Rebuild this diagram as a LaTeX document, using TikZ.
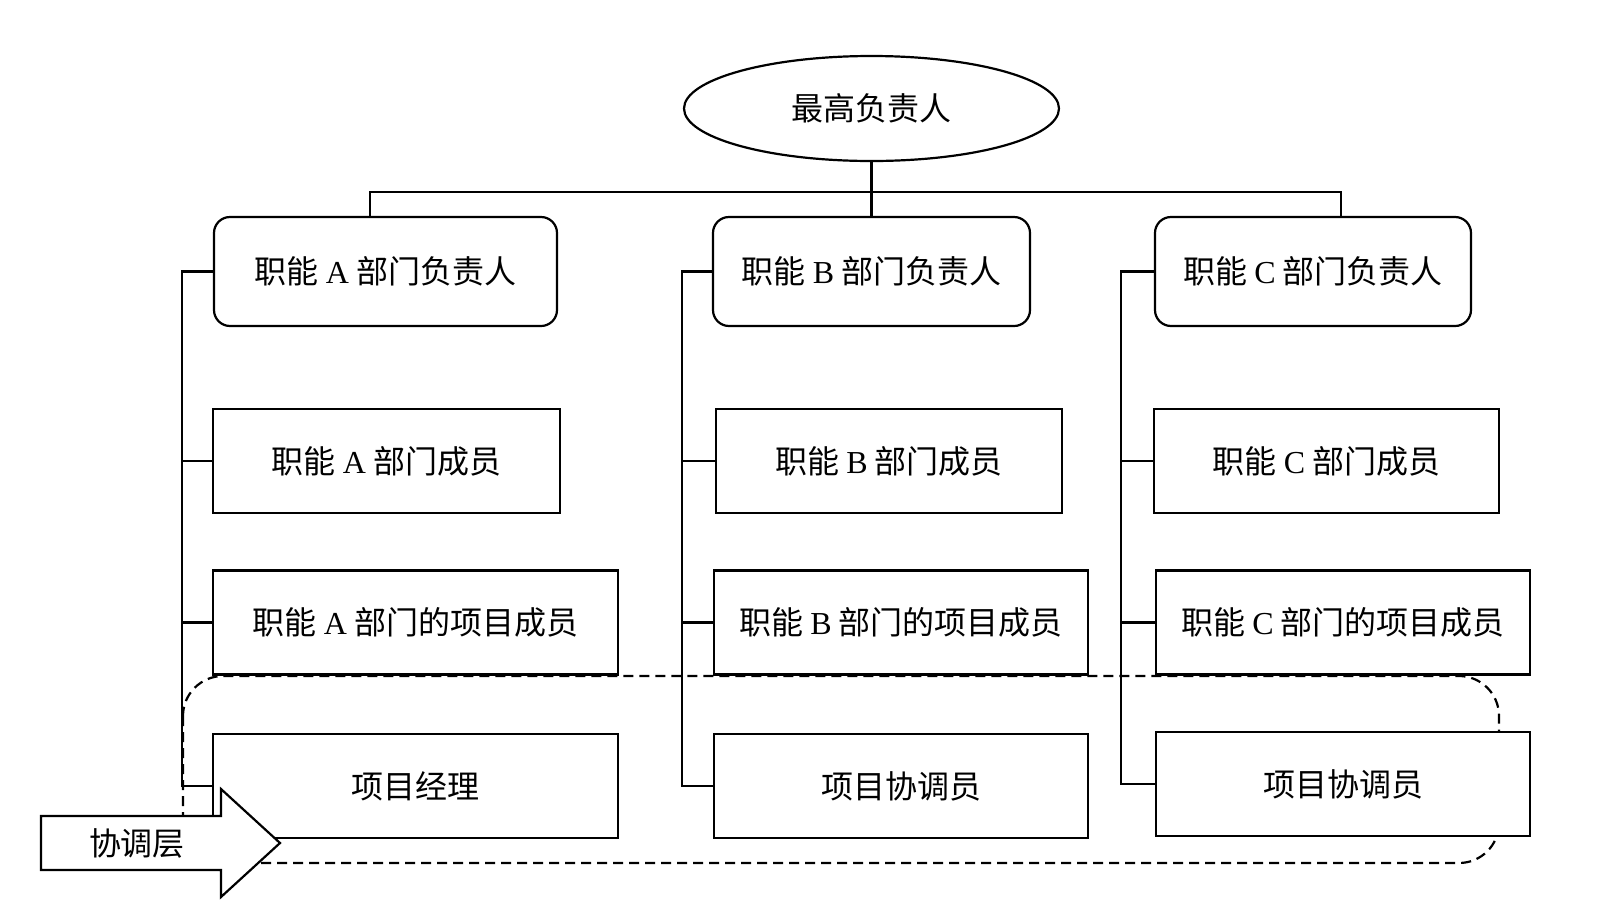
\documentclass[tikz,border=0pt]{standalone}
\usepackage{fontspec}
\setmainfont{Liberation Serif}
\newfontfamily\cjk{Noto Sans CJK SC}
\usetikzlibrary{positioning,shapes.geometric}

\begin{document}
\begin{tikzpicture}[x=0.5pt, y=-0.5pt, line width=1.1pt,
    nodes = {align = center, font=\cjk\fontsize{16pt}{19pt}\selectfont, fill=white},
    lead/.style = {draw, rounded corners=8pt, minimum height=54.5pt},
    unit/.style = {draw, minimum height=52pt}]
    \useasboundingbox (0,0) rectangle (1608,906);
    % coordination layer (drawn first, boxes cover it)
    \draw[dash pattern=on 5pt off 3pt, rounded corners=20pt] (183,676) rectangle (1499,863);
    \node (top) [draw, ellipse, minimum width=187.5pt, minimum height=52.5pt] at (871.5,108.5) {最高负责人};
    \node (hA) [lead, minimum width=171.5pt] at (385.5,271.5) {职能 {\rmfamily A} 部门负责人};
    \node (hB) [lead, minimum width=158.5pt] at (871.5,271.5) {职能 {\rmfamily B} 部门负责人};
    \node (hC) [lead, minimum width=158pt] at (1313,271.5) {职能 {\rmfamily C} 部门负责人};
    \node (mA) [unit, minimum width=173.5pt] at (386.5,461) {职能 {\rmfamily A} 部门成员};
    \node (mB) [unit, minimum width=173pt] at (889,461) {职能 {\rmfamily B} 部门成员};
    \node (mC) [unit, minimum width=172.5pt] at (1326.5,461) {职能 {\rmfamily C} 部门成员};
    \node (pA) [unit, minimum width=202.5pt] at (415.5,622.5) {职能 {\rmfamily A} 部门的项目成员};
    \node (pB) [unit, minimum width=187pt] at (901,622.5) {职能 {\rmfamily B} 部门的项目成员};
    \node (pC) [unit, minimum width=187pt] at (1343,622.5) {职能 {\rmfamily C} 部门的项目成员};
    \node (xA) [unit, minimum width=202.5pt] at (415.5,786) {项目经理};
    \node (xB) [unit, minimum width=187pt] at (901,786) {项目协调员};
    \node (xC) [unit, minimum width=187pt] at (1343,784) {项目协调员};
    % top bus
    \coordinate (bus) at (871.5,192);
    \draw (top) -- (bus);
    \draw ([xshift=-7.75pt]hA.north) |- (bus) -| ([xshift=14pt]hC.north);
    \draw (bus) -- (hB.north);
    % side spines
    \foreach \c/\d in {A/15.5pt,B/15pt,C/16.5pt} {
        \draw (h\c.west) -- ++(-\d,0) coordinate (s\c) |- (x\c.west);
        \draw (m\c.west) -- (m\c.west -| s\c);
        \draw (p\c.west) -- (p\c.west -| s\c);
    }
    % arrow
    \draw[fill=white] (41,816) -- (221,816) -- (221,789) -- (280,843) -- (221,897) -- (221,870) -- (41,870) -- cycle;
    \node (layer) [fill=none] at (137,843) {协调层};
\end{tikzpicture}
\end{document}
